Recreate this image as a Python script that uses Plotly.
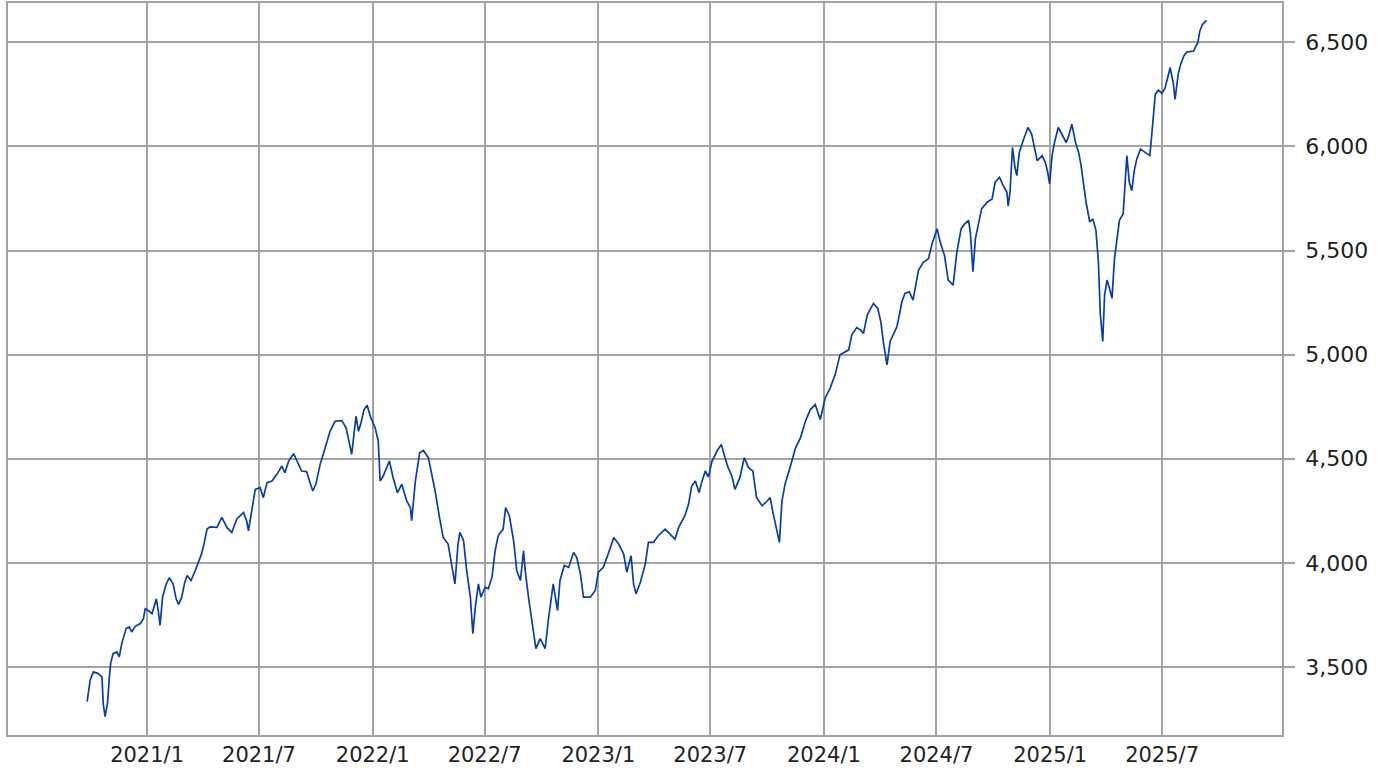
import plotly.graph_objects as go

dates = [
"2020-09-26","2020-09-28","2020-10-01","2020-10-06","2020-10-14","2020-10-20","2020-10-22","2020-10-25","2020-10-29",
"2020-11-01","2020-11-03","2020-11-07","2020-11-13","2020-11-17","2020-11-21","2020-11-28","2020-12-03","2020-12-07",
"2020-12-13","2020-12-21","2020-12-26","2020-12-29",
"2021-01-03","2021-01-09","2021-01-16","2021-01-19","2021-01-22","2021-01-26","2021-02-01","2021-02-06","2021-02-12",
"2021-02-17","2021-02-21","2021-02-26","2021-03-03","2021-03-07","2021-03-13","2021-03-20","2021-03-25","2021-03-30",
"2021-04-03","2021-04-08","2021-04-13","2021-04-24","2021-05-02","2021-05-10","2021-05-18","2021-05-26","2021-06-06",
"2021-06-11","2021-06-14","2021-06-19","2021-06-25","2021-07-03","2021-07-08","2021-07-14","2021-07-22","2021-07-30",
"2021-08-07","2021-08-12","2021-08-18","2021-08-26","2021-09-03","2021-09-08","2021-09-16","2021-09-21","2021-09-26",
"2021-10-01","2021-10-08","2021-10-16","2021-10-24","2021-11-01","2021-11-12","2021-11-19","2021-11-24","2021-11-28",
"2021-12-05","2021-12-09","2021-12-13","2021-12-18","2021-12-23","2021-12-29",
"2022-01-05","2022-01-10","2022-01-13","2022-01-18","2022-01-28","2022-02-03","2022-02-10","2022-02-17","2022-02-25",
"2022-03-03","2022-03-05","2022-03-11","2022-03-18","2022-03-24","2022-04-01","2022-04-07","2022-04-12","2022-04-19",
"2022-04-25","2022-05-03","2022-05-09","2022-05-14","2022-05-19","2022-05-22","2022-05-28","2022-06-02","2022-06-08",
"2022-06-12","2022-06-16","2022-06-21","2022-06-25","2022-07-02","2022-07-07","2022-07-13","2022-07-18","2022-07-23",
"2022-07-31","2022-08-04","2022-08-10","2022-08-17","2022-08-22","2022-08-28","2022-09-02","2022-09-05","2022-09-10",
"2022-09-15","2022-09-22","2022-09-29","2022-10-07","2022-10-12","2022-10-20","2022-10-27","2022-10-31","2022-11-07",
"2022-11-14","2022-11-22","2022-11-27","2022-12-03","2022-12-08","2022-12-19","2022-12-27",
"2023-01-01","2023-01-09","2023-01-15","2023-01-26","2023-02-03","2023-02-11","2023-02-16","2023-02-23","2023-02-27",
"2023-03-03","2023-03-10","2023-03-18","2023-03-23","2023-03-31","2023-04-08","2023-04-19","2023-04-27","2023-05-05",
"2023-05-11","2023-05-21","2023-05-27","2023-06-01","2023-06-07","2023-06-13","2023-06-17","2023-06-23","2023-06-28",
"2023-07-04","2023-07-12","2023-07-19","2023-07-25","2023-07-30","2023-08-05","2023-08-10","2023-08-18","2023-08-25",
"2023-09-01","2023-09-08","2023-09-14","2023-09-23","2023-10-01","2023-10-06","2023-10-11","2023-10-17","2023-10-21",
"2023-10-25","2023-10-30","2023-11-07","2023-11-16","2023-11-24","2023-12-02","2023-12-10","2023-12-18","2023-12-26",
"2024-01-03","2024-01-11","2024-01-19","2024-01-27","2024-02-04","2024-02-10","2024-02-15","2024-02-23","2024-02-29",
"2024-03-05","2024-03-11","2024-03-21","2024-03-28","2024-04-02","2024-04-06","2024-04-12","2024-04-17","2024-04-23",
"2024-04-28","2024-05-03","2024-05-06","2024-05-11","2024-05-18","2024-05-24","2024-05-28","2024-06-02","2024-06-10",
"2024-06-18","2024-06-24","2024-07-02","2024-07-07","2024-07-14","2024-07-20","2024-07-28","2024-08-03","2024-08-10",
"2024-08-16","2024-08-22","2024-08-25","2024-08-29","2024-09-02","2024-09-07","2024-09-12","2024-09-21","2024-09-29",
"2024-10-04","2024-10-11","2024-10-17","2024-10-23","2024-10-25","2024-10-28","2024-11-01","2024-11-05","2024-11-08",
"2024-11-12","2024-11-19","2024-11-26","2024-12-02","2024-12-08","2024-12-11","2024-12-19","2024-12-24","2024-12-28",
"2024-12-31",
"2025-01-04","2025-01-08","2025-01-14","2025-01-20","2025-01-27","2025-01-31","2025-02-05","2025-02-11","2025-02-16",
"2025-02-20","2025-02-25","2025-02-28","2025-03-06","2025-03-11","2025-03-16","2025-03-20","2025-03-23","2025-03-27",
"2025-03-30","2025-04-03","2025-04-07","2025-04-11","2025-04-15","2025-04-19","2025-04-23","2025-04-29","2025-05-02",
"2025-05-05","2025-05-09","2025-05-13","2025-05-17","2025-05-21","2025-05-27","2025-06-04","2025-06-11","2025-06-13",
"2025-06-16","2025-06-18","2025-06-20","2025-06-25","2025-07-01","2025-07-06","2025-07-10","2025-07-14","2025-07-19",
"2025-07-22","2025-07-27","2025-07-31","2025-08-05","2025-08-10","2025-08-21","2025-08-28","2025-08-31","2025-09-04",
"2025-09-11",
]

values = [
3333,3373,3437,3476,3468,3452,3325,3261,3325,
3452,3516,3564,3572,3548,3612,3684,3692,3668,
3695,3708,3732,3779,
3771,3755,3827,3771,3700,3835,3899,3928,3899,
3827,3800,3835,3907,3939,3915,3963,4002,4042,
4090,4162,4173,4170,4218,4170,4146,4210,4242,
4202,4154,4250,4353,4361,4313,4385,4393,4425,
4465,4433,4489,4524,4473,4441,4438,4393,4345,
4377,4473,4552,4632,4680,4683,4648,4569,4521,
4704,4632,4672,4736,4757,4696,
4648,4584,4393,4417,4489,4409,4337,4377,4297,
4265,4202,4393,4529,4540,4505,4425,4345,4218,
4122,4090,3978,3899,4090,4146,4106,3963,3835,
3660,3787,3899,3835,3883,3875,3931,4058,4130,
4162,4265,4226,4106,3963,3915,4058,3955,3835,
3723,3588,3636,3588,3723,3899,3771,3915,3987,
3978,4050,4026,3947,3835,3835,3867,
3955,3978,4026,4122,4090,4042,3955,4034,3899,
3851,3907,3995,4098,4098,4130,4162,4138,4114,
4170,4226,4282,4369,4393,4337,4385,4441,4412,
4489,4537,4569,4505,4457,4417,4353,4409,4505,
4457,4441,4313,4274,4297,4313,4234,4154,4098,
4297,4377,4457,4552,4600,4680,4736,4760,4688,
4792,4839,4903,4999,5015,5023,5095,5130,5119,
5102,5190,5246,5222,5158,5063,4951,5063,5102,
5134,5206,5254,5294,5302,5262,5326,5406,5445,
5461,5533,5605,5541,5477,5358,5334,5493,5605,
5629,5645,5581,5398,5557,5637,5700,5732,5748,
5828,5852,5812,5780,5713,5780,5995,5900,5860,
5971,6035,6091,6059,5963,5932,5956,5924,5876,
5820,
5956,6019,6091,6059,6019,6051,6107,6019,5971,
5908,5804,5732,5637,5652,5597,5445,5198,5063,
5286,5358,5318,5270,5461,5557,5645,5676,5804,
5956,5828,5788,5884,5939,5987,5971,5956,6011,
6123,6195,6250,6271,6255,6282,6330,6378,6306,
6226,6346,6394,6434,6453,6458,6501,6554,6585,
6606,
]

x_tick_vals = ["2021-01-01","2021-07-01","2022-01-01","2022-07-01","2023-01-01",
               "2023-07-01","2024-01-01","2024-07-01","2025-01-01","2025-07-01"]
x_tick_text = ["2021/1","2021/7","2022/1","2022/7","2023/1",
               "2023/7","2024/1","2024/7","2025/1","2025/7"]
y_tick_vals = [3500, 4000, 4500, 5000, 5500, 6000, 6500]

GRID = "#a3a3a3"

fig = go.Figure()
fig.add_trace(go.Scatter(
    x=dates, y=values, mode="lines",
    line=dict(color="#0a3ea0", width=1.7),
    hoverinfo="x+y", showlegend=False,
))

fig.update_layout(
    width=1380, height=770,
    margin=dict(l=8, r=98, t=1, b=35),
    paper_bgcolor="white", plot_bgcolor="white",
    font=dict(family="DejaVu Sans", size=21, color="#222222"),
    showlegend=False,
)
fig.update_xaxes(
    type="date",
    range=["2020-05-21", "2026-01-11"],
    tickmode="array", tickvals=x_tick_vals, ticktext=x_tick_text,
    showgrid=True, gridcolor=GRID, gridwidth=1.6,
    showline=True, linecolor=GRID, linewidth=1.6, mirror=True,
    ticks="", zeroline=False,
)
fig.update_yaxes(
    side="right",
    range=[3173, 6689],
    tickmode="array", tickvals=y_tick_vals, tickformat=",d",
    tickfont=dict(size=22),
    showgrid=True, gridcolor=GRID, gridwidth=1.6,
    showline=True, linecolor=GRID, linewidth=1.6, mirror=True,
    ticks="outside", ticklen=11, tickcolor=GRID, tickwidth=1.6,
    ticklabelstandoff=6,
    zeroline=False,
)

fig.write_html("out.html", config={"displayModeBar": False},
               post_script="document.body.style.margin='0';")
